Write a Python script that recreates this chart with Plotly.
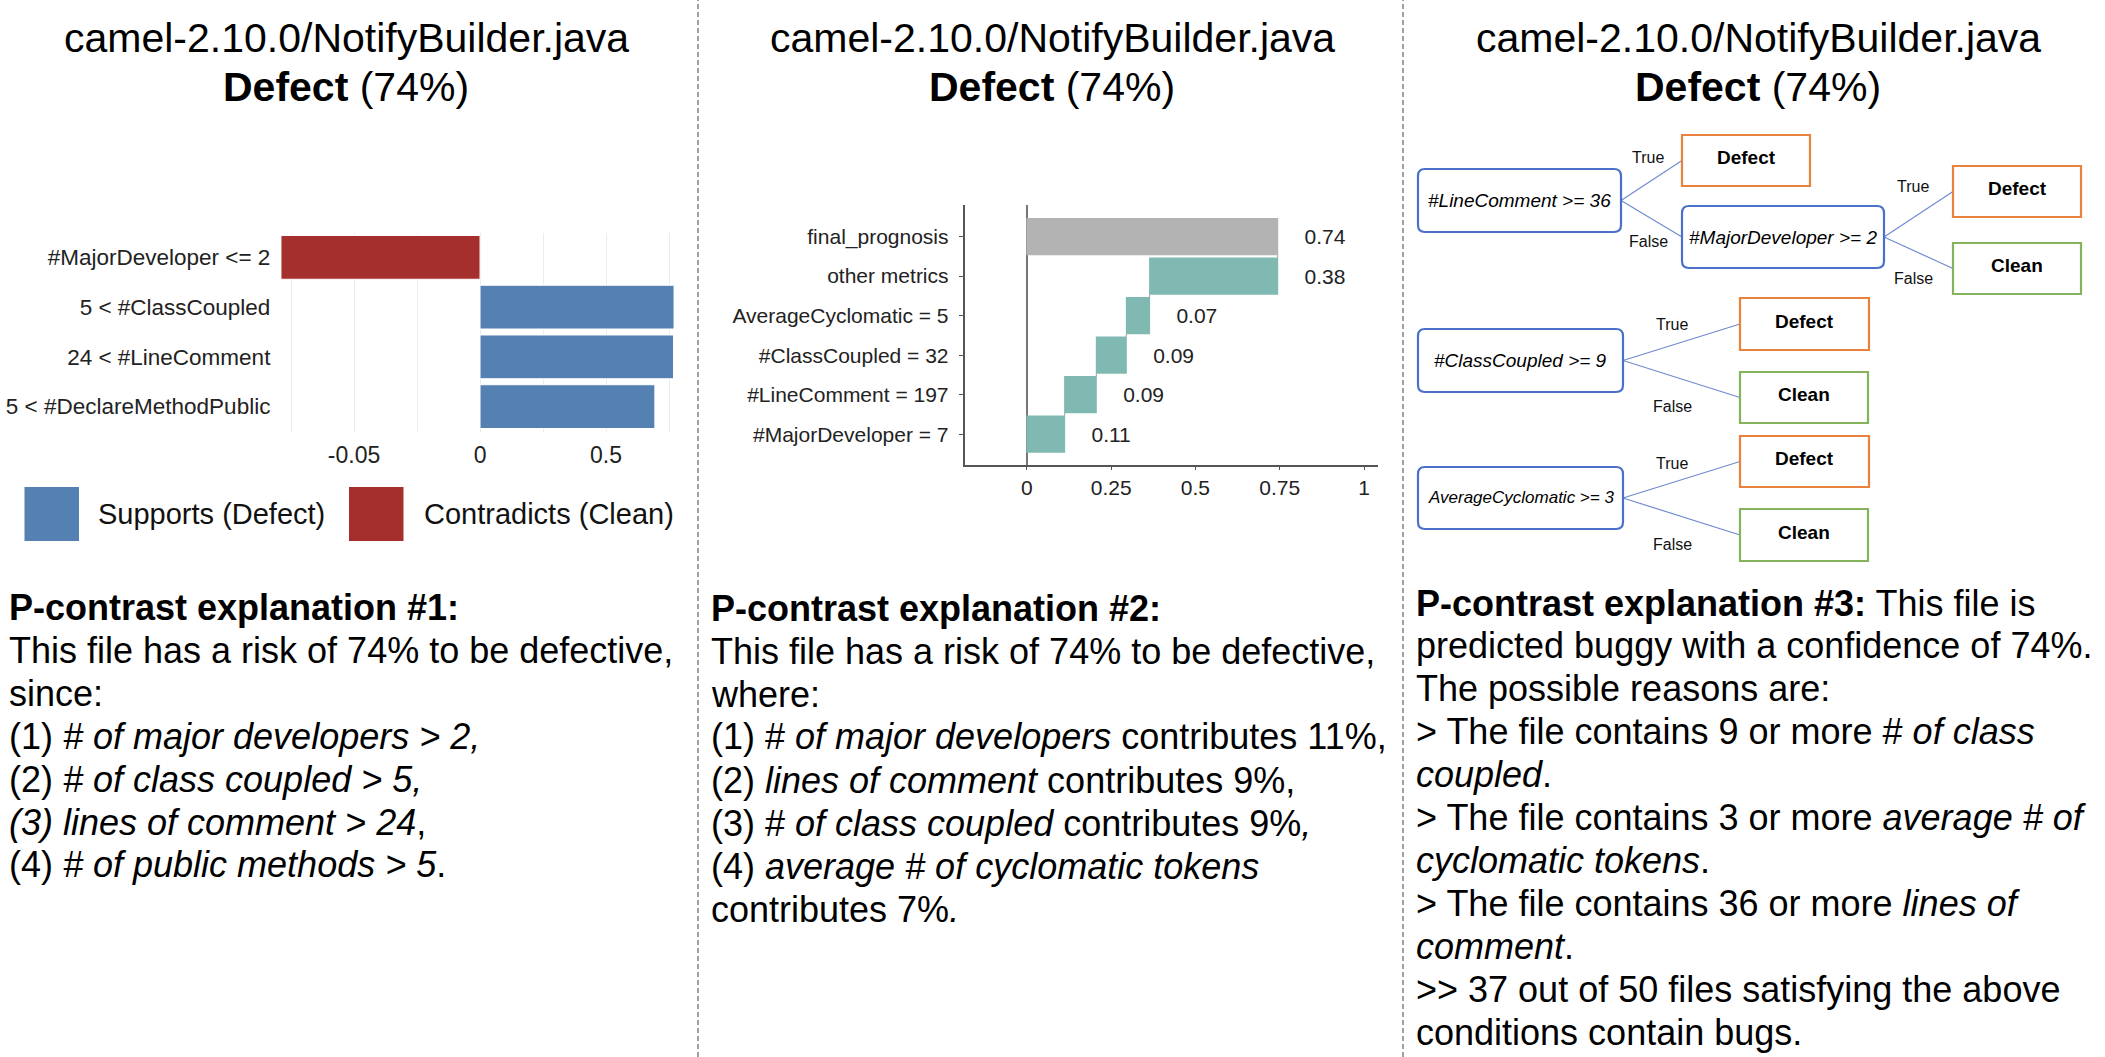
import plotly.graph_objects as go

W, H = 2105, 1057
FONT = "Liberation Sans, Arial, Helvetica, sans-serif"

# ---------------- data ----------------
file_name = "camel-2.10.0/NotifyBuilder.java"
prediction = "Defect"
confidence_pct = 74

# Panel 1: rule weights (LIME style)
lime_rules = ["#MajorDeveloper <= 2", "5 < #ClassCoupled", "24 < #LineComment", "5 < #DeclareMethodPublic"]
lime_weights = [-0.079, 0.770, 0.768, 0.694]
lime_tick_values = [-0.05, 0, 0.5]
legend_labels = ["Supports (Defect)", "Contradicts (Clean)"]

# Panel 2: waterfall contributions (bottom to top)
wf_features = ["#MajorDeveloper = 7", "#LineComment = 197", "#ClassCoupled = 32",
               "AverageCyclomatic = 5", "other metrics", "final_prognosis"]
wf_contrib = [0.112, 0.094, 0.089, 0.069, 0.380]
wf_ticks = [0, 0.25, 0.5, 0.75, 1]
wf_tick_text = ["0", "0.25", "0.5", "0.75", "1"]

# Panel 3: rule tree
tree_conditions = ["#LineComment >= 36", "#MajorDeveloper >= 2", "#ClassCoupled >= 9", "AverageCyclomatic >= 3"]
tree_leaves = ["Defect", "Defect", "Clean", "Defect", "Clean", "Defect", "Clean"]
# edges: (parent kind, parent idx, child kind, child idx, branch label)
tree_edges = [("c", 0, "l", 0, "True"), ("c", 0, "c", 1, "False"),
              ("c", 1, "l", 1, "True"), ("c", 1, "l", 2, "False"),
              ("c", 2, "l", 3, "True"), ("c", 2, "l", 4, "False"),
              ("c", 3, "l", 5, "True"), ("c", 3, "l", 6, "False")]

text1 = ["<b>P-contrast explanation #1:</b>",
         "This file has a risk of 74% to be defective,",
         "since:",
         "(1) <i># of major developers &gt; 2,</i>",
         "(2) <i># of class coupled &gt; 5,</i>",
         "<i>(3) lines of comment &gt; 24</i>,",
         "(4) <i># of public methods &gt; 5</i>."]
text2 = ["<b>P-contrast explanation #2:</b>",
         "This file has a risk of 74% to be defective,",
         "where:",
         "(1) # <i>of major developers</i> contributes 11%,",
         "(2) <i>lines of comment</i> contributes 9%,",
         "(3) # <i>of class coupled</i> contributes 9%<i>,</i>",
         "(4) <i>average # of cyclomatic tokens</i>",
         "contributes 7%<i>.</i>"]
text3 = ["<b>P-contrast explanation #3:</b> This file is",
         "predicted buggy with a confidence of 74%.",
         "The possible reasons are:",
         "&gt; The file contains 9 or more # <i>of class</i>",
         "<i>coupled</i>.",
         "&gt; The file contains 3 or more <i>average # of</i>",
         "<i>cyclomatic tokens</i>.",
         "&gt; The file contains 36 or more <i>lines of</i>",
         "<i>comment</i>.",
         "&gt;&gt; 37 out of 50 files satisfying the above",
         "conditions contain bugs."]

# ---------------- helpers ----------------
def PX(x):
    return x / W


def PY(y):
    return 1 - y / H


def split_scale(v):
    # the reference axis magnifies the negative side 10x
    return v * 10 if v < 0 else v


fig = go.Figure()

# ---------------- panel 1 ----------------
BLUE1 = "#5580b2"
RED1 = "#a52f2c"
pos_y = [r for r, w in zip(lime_rules, lime_weights) if w >= 0]
pos_x = [split_scale(w) for w in lime_weights if w >= 0]
neg_y = [r for r, w in zip(lime_rules, lime_weights) if w < 0]
neg_x = [split_scale(w) for w in lime_weights if w < 0]
fig.add_trace(go.Bar(y=pos_y, x=pos_x, orientation="h", marker=dict(color=BLUE1, line=dict(color="white", width=1)),
                     xaxis="x", yaxis="y", showlegend=False, hoverinfo="skip"))
fig.add_trace(go.Bar(y=neg_y, x=neg_x, orientation="h", marker=dict(color=RED1, line=dict(color="white", width=1)),
                     xaxis="x", yaxis="y", showlegend=False, hoverinfo="skip"))

major = [split_scale(t) for t in lime_tick_values]
minor = [(major[i] + major[i + 1]) / 2 for i in range(len(major) - 1)]
minor = [major[0] - (major[1] - major[0]) / 2] + minor + [major[-1] + (major[-1] - major[-2]) / 2]
p1_tickvals = sorted(major + minor)
p1_ticktext = [("%g" % lime_tick_values[major.index(v)]) if v in major else "" for v in p1_tickvals]

# ---------------- panel 2 ----------------
TEAL = "#7fb9b1"
GRAY = "#b3b3b3"
total = sum(wf_contrib)
wf_vals = wf_contrib + [0]
wf_text = ["\u00a0\u00a0\u00a0\u00a0%.2f" % v for v in wf_contrib] + ["\u00a0\u00a0\u00a0\u00a0%.2f" % total]
fig.add_trace(go.Waterfall(
    orientation="h", y=wf_features, x=wf_vals,
    measure=["relative"] * len(wf_contrib) + ["total"],
    text=wf_text, textposition="outside", cliponaxis=False,
    textfont=dict(size=21, color="#222", family=FONT),
    increasing=dict(marker=dict(color=TEAL)),
    decreasing=dict(marker=dict(color=TEAL)),
    totals=dict(marker=dict(color=GRAY)),
    connector=dict(line=dict(color="#999", width=1, dash="dot")),
    xaxis="x2", yaxis="y2", showlegend=False, hoverinfo="skip"))

# ---------------- layout ----------------
fig.update_layout(
    width=W, height=H, margin=dict(l=0, r=0, t=0, b=0),
    paper_bgcolor="white", plot_bgcolor="rgba(0,0,0,0)",
    font=dict(family=FONT, color="#111"),
    showlegend=False, barmode="overlay", bargap=0.12, waterfallgap=0.06,
    xaxis=dict(domain=[PX(273.4), PX(681.6)], range=[-0.82, 0.80], anchor="y",
               tickvals=p1_tickvals, ticktext=p1_ticktext, showgrid=True, gridcolor="#ebebeb", gridwidth=1.2,
               zeroline=False, showline=False, ticks="", tickfont=dict(size=23, color="#222"),
               ticklabelstandoff=7),
    yaxis=dict(domain=[PY(431.5), PY(232.5)], type="category", categoryorder="array", categoryarray=lime_rules,
               range=[3.5, -0.5], anchor="x", showgrid=False, zeroline=False, ticks="",
               tickfont=dict(size=22.5, color="#222"), ticklabelstandoff=2),
    xaxis2=dict(domain=[PX(964.5), PX(1377.5)], range=[-0.185, 1.04], anchor="y2",
                tickvals=wf_ticks, ticktext=wf_tick_text, showline=True, linecolor="#555", linewidth=1.5,
                ticks="outside", ticklen=3, tickcolor="#555", showgrid=False,
                zeroline=True, zerolinecolor="#777", zerolinewidth=1.5, tickfont=dict(size=21, color="#222")),
    yaxis2=dict(domain=[PY(465), PY(205)], type="category", categoryorder="array", categoryarray=wf_features,
                range=[-0.78, 5.8], anchor="x2", showline=True, linecolor="#555", linewidth=1.5,
                ticks="outside", ticklen=4, tickcolor="#555", showgrid=False,
                tickfont=dict(size=21, color="#222"), ticklabelstandoff=6),
)

shapes = []
annotations = []

# separators
for sx in (698, 1403):
    shapes.append(dict(type="line", xref="paper", yref="paper", x0=PX(sx), x1=PX(sx), y0=0, y1=1,
                       line=dict(color="#a0a0a0", width=2, dash="5px,3px")))

# titles
for cx in (346, 1052, 1758):
    annotations.append(dict(x=PX(cx), y=PY(38), xref="paper", yref="paper", text=file_name,
                            showarrow=False, xanchor="center", yanchor="middle",
                            font=dict(size=41, color="#000")))
    annotations.append(dict(x=PX(cx), y=PY(87), xref="paper", yref="paper",
                            text="<b>%s</b> (%d%%)" % (prediction, confidence_pct),
                            showarrow=False, xanchor="center", yanchor="middle",
                            font=dict(size=41, color="#000")))

# panel 1 legend
for (x0, label_x, col, lab) in ((24.5, 96, BLUE1, legend_labels[0]), (349, 422, RED1, legend_labels[1])):
    shapes.append(dict(type="rect", xref="paper", yref="paper", x0=PX(x0), x1=PX(x0 + 54.5),
                       y0=PY(541), y1=PY(487), fillcolor=col, line=dict(width=0)))
    annotations.append(dict(x=PX(label_x), y=PY(514), xref="paper", yref="paper", text=lab, showarrow=False,
                            xanchor="left", yanchor="middle", font=dict(size=29, color="#111")))

# explanation texts
def add_lines(lines, x0, y0, step=43.0, size=36):
    for i, ln in enumerate(lines):
        annotations.append(dict(x=PX(x0), y=PY(y0 + i * step), xref="paper", yref="paper", text=ln,
                                showarrow=False, xanchor="left", yanchor="middle", align="left",
                                font=dict(size=size, color="#000")))

add_lines(text1, 7, 607)
add_lines(text2, 709, 608)
add_lines(text3, 1414, 603, step=42.9)

# ---------------- panel 3: tree ----------------
cond_boxes = [(1418, 169, 1621, 232), (1682, 206, 1884, 268), (1418, 329, 1623, 392), (1418, 467, 1623, 529)]
cond_sizes = [19, 19, 19, 17]
leaf_boxes = [(1682, 135, 1810, 186), (1953, 166, 2081, 217), (1953, 243, 2081, 294),
              (1740, 298, 1869, 350), (1740, 372, 1868, 423), (1740, 436, 1869, 487), (1740, 509, 1868, 561)]
edge_label_pos = [(1648, 158), (1648, 242), (1913, 186), (1913, 278),
                  (1672, 325), (1672, 407), (1672, 463), (1672, 544)]
TBLUE = "#4a70c9"
TORANGE = "#e8823c"
TGREEN = "#84b35b"
TLINE = "#6f8bd0"


def rrect_path(x0, y0, x1, y1, r):
    pts = [("M", [(x0 + r, y0)]), ("L", [(x1 - r, y0)]), ("Q", [(x1, y0), (x1, y0 + r)]),
           ("L", [(x1, y1 - r)]), ("Q", [(x1, y1), (x1 - r, y1)]), ("L", [(x0 + r, y1)]),
           ("Q", [(x0, y1), (x0, y1 - r)]), ("L", [(x0, y0 + r)]), ("Q", [(x0, y0), (x0 + r, y0)])]
    s = ""
    for cmd, ps in pts:
        s += cmd + " " + " ".join("%.6f,%.6f" % (PX(a), PY(b)) for a, b in ps) + " "
    return s + "Z"


def box_of(kind, idx):
    return cond_boxes[idx] if kind == "c" else leaf_boxes[idx]


for (pk, pi, ck, ci, lab), (lx, ly) in zip(tree_edges, edge_label_pos):
    px0, py0, px1, py1 = box_of(pk, pi)
    cx0, cy0, cx1, cy1 = box_of(ck, ci)
    shapes.append(dict(type="line", xref="paper", yref="paper",
                       x0=PX(px1), y0=PY((py0 + py1) / 2), x1=PX(cx0), y1=PY((cy0 + cy1) / 2),
                       line=dict(color=TLINE, width=1.2)))
    annotations.append(dict(x=PX(lx), y=PY(ly), xref="paper", yref="paper", text=lab, showarrow=False,
                            xanchor="center", yanchor="middle", font=dict(size=16, color="#111")))

for (x0, y0, x1, y1), lab, sz in zip(cond_boxes, tree_conditions, cond_sizes):
    shapes.append(dict(type="path", xref="paper", yref="paper", path=rrect_path(x0, y0, x1, y1, 7),
                       line=dict(color=TBLUE, width=2.2), fillcolor="white"))
    annotations.append(dict(x=PX((x0 + x1) / 2), y=PY((y0 + y1) / 2), xref="paper", yref="paper",
                            text="<i>%s</i>" % lab.replace(">", "&gt;"), showarrow=False,
                            xanchor="center", yanchor="middle", font=dict(size=sz, color="#000")))

for (x0, y0, x1, y1), lab in zip(leaf_boxes, tree_leaves):
    col = TORANGE if lab == "Defect" else TGREEN
    shapes.append(dict(type="rect", xref="paper", yref="paper", x0=PX(x0), x1=PX(x1), y0=PY(y1), y1=PY(y0),
                       line=dict(color=col, width=2.2), fillcolor="white"))
    annotations.append(dict(x=PX((x0 + x1) / 2), y=PY((y0 + y1) / 2 - 3), xref="paper", yref="paper",
                            text="<b>%s</b>" % lab, showarrow=False,
                            xanchor="center", yanchor="middle", font=dict(size=19, color="#000")))

fig.update_layout(shapes=shapes, annotations=annotations)
fig.write_html("out.html")
